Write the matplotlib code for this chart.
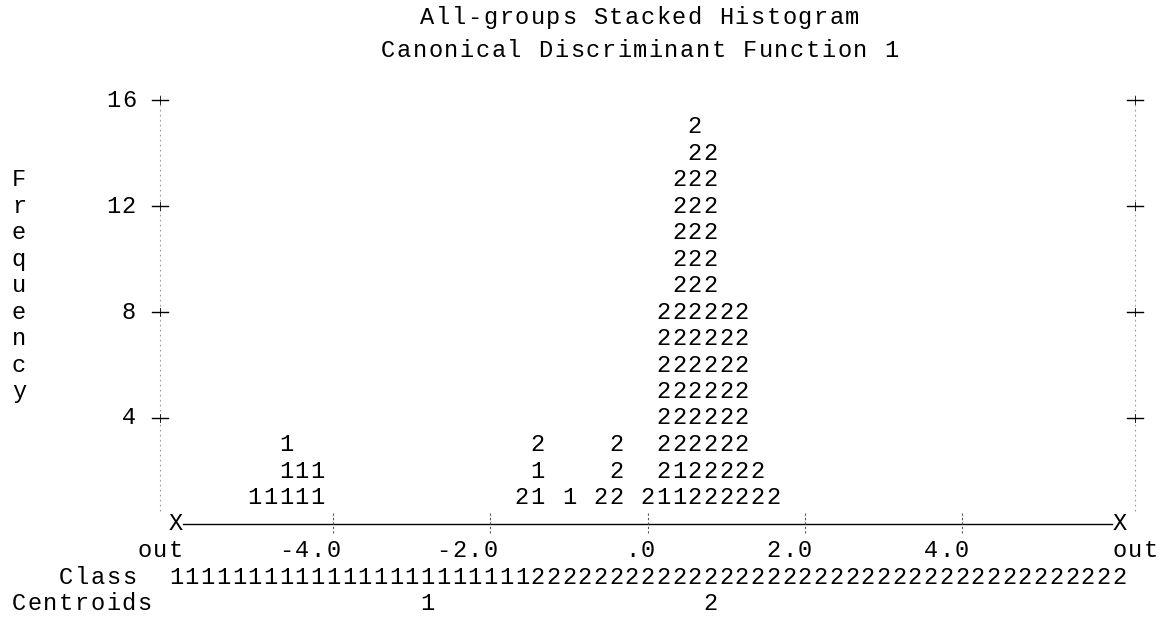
import matplotlib
matplotlib.use("Agg")
import matplotlib.pyplot as plt

# ---------------- data ----------------
title = "All-groups Stacked Histogram"
subtitle = "Canonical Discriminant Function 1"
y_label = "Frequency"

# bin centres of the discriminant score (one text column = 0.2 units)
bin_centers = [-5.0, -4.8, -4.6, -4.4, -4.2, -1.6, -1.4, -1.0, -0.6, -0.4,
               0.0, 0.2, 0.4, 0.6, 0.8, 1.0, 1.2, 1.4, 1.6]
group1_counts = [1, 1, 3, 2, 2, 0, 2, 1, 0, 0, 0, 1, 2, 0, 0, 0, 0, 0, 0]
group2_counts = [0, 0, 0, 0, 0, 1, 1, 0, 1, 3, 1, 7, 11, 15, 14, 8, 8, 2, 1]
group_symbols = ["1", "2"]

x_ticks = [-4.0, -2.0, 0.0, 2.0, 4.0]
x_tick_labels = ["-4.0", "-2.0", ".0", "2.0", "4.0"]
y_ticks = [4, 8, 12, 16]
y_tick_labels = ["4", "8", "12", "16"]

x_min, x_max = -6.0, 6.0
col_w = 0.2
class_boundary = -1.5          # columns left of this are classified as group 1
centroids = [-2.8, 0.8]        # group centroids

# ---------------- layout ----------------
W, H = 1165, 621
fig = plt.figure(figsize=(W / 100, H / 100), dpi=100)
ax = fig.add_axes([0, 0, 1, 1])
px_per_unit = 15.72 / col_w
px_per_row = 26.5
x0_px, y0_px = 176, 524
ax.set_xlim(x_min - x0_px / px_per_unit, x_min + (W - x0_px) / px_per_unit)
ax.set_ylim((y0_px - H) / px_per_row, y0_px / px_per_row)
ax.axis("off")

FONT = dict(family=["Liberation Mono", "DejaVu Sans Mono"], fontsize=17,
            color="black", ha="center", va="center")


def put(s, x_start, y, **kw):
    for i, ch in enumerate(s):
        if ch != " ":
            ax.text(x_start + i * col_w, y, ch, **{**FONT, **kw})


# titles
for txt, row in [(title, 19.1), (subtitle, 17.85)]:
    centre = -0.1
    put(txt, centre - (len(txt) - 1) / 2 * col_w, row)

# stacked histogram of characters
for x, c1, c2 in zip(bin_centers, group1_counts, group2_counts):
    stack = [group_symbols[0]] * c1 + [group_symbols[1]] * c2
    for k, ch in enumerate(stack):
        ax.text(x, k + 1, ch, **FONT)

# vertical frame lines with '+' ticks
for xv in (x_min - col_w, x_max + col_w):
    ax.plot([xv, xv], [0.5, 16.2], color="#9a9a9a", lw=0.8,
            linestyle=(0, (1.5, 3)))
    for t in y_ticks:
        ax.plot([xv - 0.1, xv + 0.1], [t, t], color="black", lw=1.0)
        ax.plot([xv, xv], [t - 0.15, t + 0.15], color="black", lw=0.6)

# y tick labels (right-aligned, ending two columns left of the frame)
for t, lab in zip(y_ticks, y_tick_labels):
    end = x_min - 3 * col_w
    put(lab, end - (len(lab) - 1) * col_w, t)

# vertical y label
for i, ch in enumerate(y_label):
    ax.text(x_min - 10 * col_w, 13 - i, ch, **FONT)

# x axis line
ax.plot([x_min + 0.09, x_max - 0.09], [0, 0], color="black", lw=1.0)
put("X", x_min, 0)
put("X", x_max, 0)
for t in x_ticks:
    ax.plot([t, t], [-0.35, 0.4], color="#555555", lw=0.8,
            linestyle=(0, (2, 2)))

# x tick labels: last character sits under the tick
for t, lab in zip(x_ticks, x_tick_labels):
    put(lab, t - (len(lab) - 1) * col_w, -1)
put("out", x_min - 2 * col_w, -1)
put("out", x_max, -1)

# class row
put("Class", x_min - 7 * col_w, -2)
n_cols = int(round((x_max - x_min) / col_w)) + 1
for i in range(n_cols):
    xc = x_min + i * col_w
    ax.text(xc, -2, group_symbols[0] if xc < class_boundary else group_symbols[1],
            **FONT)

# centroids row
put("Centroids", x_min - 10 * col_w, -3)
for c, s in zip(centroids, group_symbols):
    ax.text(c, -3, s, **FONT)

fig.savefig("out.png", dpi=100, facecolor="white")
